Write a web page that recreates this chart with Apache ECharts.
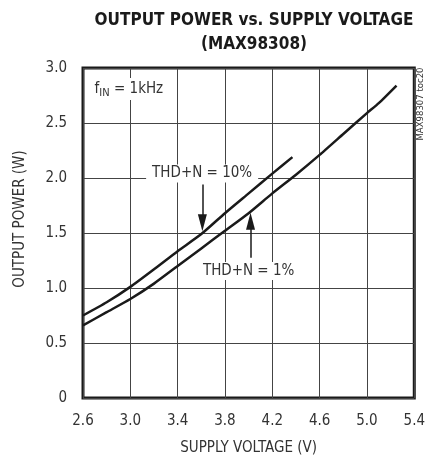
<!DOCTYPE html>
<html>
<head>
<meta charset="utf-8">
<script src="https://cdn.jsdelivr.net/npm/echarts@6/dist/echarts.min.js"></script>
<style>
html,body{margin:0;padding:0;background:#fff;}
#c{width:428px;height:461px;}
</style>
</head>
<body>
<div id="c"></div>
<script>
// ---- data ----
const volt10 = [2.6, 2.8, 3.0, 3.2, 3.4, 3.6, 3.8, 4.0, 4.2, 4.37];
const power10 = [0.75, 0.87, 1.01, 1.17, 1.335, 1.49, 1.68, 1.86, 2.04, 2.19];
const volt1 = [2.6, 2.8, 3.0, 3.2, 3.4, 3.6, 3.8, 4.0, 4.2, 4.4, 4.6, 4.8, 5.0, 5.1, 5.25];
const power1 = [0.66, 0.78, 0.90, 1.04, 1.20, 1.36, 1.52, 1.68, 1.86, 2.03, 2.21, 2.40, 2.59, 2.68, 2.84];
const xTicks = [2.6, 3.0, 3.4, 3.8, 4.2, 4.6, 5.0, 5.4];
const yTicks = [0, 0.5, 1.0, 1.5, 2.0, 2.5, 3.0];

const FONT = '"DejaVu Sans Condensed", "Liberation Sans Narrow", "Arial Narrow", sans-serif';
const INK = '#1a1a1a';
const TXT = '#333';
const FS = 15;

const pairs = (xs, ys) => xs.map((x, i) => [x, ys[i]]);

const chart = echarts.init(document.getElementById('c'), null, {renderer: 'canvas'});

const lineLabel = {show: true, position: 'inside', fontFamily: FONT, fontSize: FS, color: TXT};

chart.setOption({
  animation: false,
  backgroundColor: '#fff',
  title: {
    text: 'OUTPUT POWER vs. SUPPLY VOLTAGE\n(MAX98308)',
    left: 249,
    textAlign: 'center',
    top: 4,
    textStyle: {fontFamily: FONT, fontWeight: 'bold', fontSize: 17, lineHeight: 24, color: INK}
  },
  grid: {
    left: 83, right: 13, top: 68, bottom: 62,
    show: true, borderColor: INK, borderWidth: 3, backgroundColor: 'transparent'
  },
  xAxis: {
    type: 'value',
    min: xTicks[0], max: xTicks[xTicks.length - 1],
    name: 'SUPPLY VOLTAGE (V)',
    nameLocation: 'middle',
    nameGap: 43,
    nameTextStyle: {fontFamily: FONT, fontSize: FS, color: TXT},
    axisLine: {show: false},
    axisTick: {show: false, customValues: xTicks},
    axisLabel: {
      customValues: xTicks,
      margin: 16,
      fontFamily: FONT, fontSize: FS, color: TXT,
      formatter: v => v.toFixed(1)
    },
    splitLine: {show: true, lineStyle: {color: '#444', width: 1}}
  },
  yAxis: {
    type: 'value',
    min: yTicks[0], max: yTicks[yTicks.length - 1], interval: 0.5,
    axisLine: {show: false},
    axisTick: {show: false},
    axisLabel: {
      margin: 16,
      fontFamily: FONT, fontSize: FS, color: TXT,
      formatter: v => (v === 0 ? '0' : v.toFixed(1))
    },
    splitLine: {show: true, lineStyle: {color: '#444', width: 1}}
  },
  graphic: [
    {
      type: 'text', x: 20, y: 219, rotation: Math.PI / 2,
      style: {text: 'OUTPUT POWER (W)', font: FS + 'px ' + FONT, fill: TXT, align: 'center', verticalAlign: 'middle'}
    },
    {
      type: 'text', x: 421, y: 104, rotation: Math.PI / 2,
      style: {text: 'MAX98307 toc20', font: '9.5px ' + FONT, fill: TXT, align: 'center', verticalAlign: 'middle'}
    }
  ],
  series: [
    {
      type: 'line', name: 'THD+N = 10%',
      data: pairs(volt10, power10),
      showSymbol: false, smooth: 0.2,
      lineStyle: {color: INK, width: 2.5},
      silent: true, z: 3,
      markPoint: {
        symbol: 'rect', symbolSize: 0, silent: true,
        label: lineLabel,
        data: [
          {
            coord: [3.607, 2.04],
            label: {formatter: 'THD+N = 10%', backgroundColor: '#fff', padding: [2, 6, 1, 6]}
          },
          {
            coord: [2.988, 2.81],
            label: {
              formatter: '{a|f}{b|IN}{a| = 1kHz}', backgroundColor: '#fff', padding: [2, 3, 1, 3],
              rich: {
                a: {fontFamily: FONT, fontSize: FS, color: TXT, lineHeight: 19},
                b: {fontFamily: FONT, fontSize: 11, color: TXT, verticalAlign: 'bottom', lineHeight: 12, padding: [5, 0, 0, 0]}
              }
            }
          },
          {
            coord: [3.609, 1.593],
            symbol: 'triangle', symbolSize: [9, 17], symbolRotate: 180,
            itemStyle: {color: INK},
            label: {show: false}
          }
        ]
      },
      markLine: {
        silent: true, symbol: ['none', 'none'],
        label: {show: false},
        lineStyle: {color: INK, width: 1.5, type: 'solid'},
        data: [[{coord: [3.609, 1.94]}, {coord: [3.609, 1.593]}]]
      }
    },
    {
      type: 'line', name: 'THD+N = 1%',
      data: pairs(volt1, power1),
      showSymbol: false, smooth: 0.2,
      lineStyle: {color: INK, width: 2.5},
      silent: true, z: 3,
      markPoint: {
        symbol: 'rect', symbolSize: 0, silent: true,
        label: lineLabel,
        data: [
          {
            coord: [4.0, 1.154],
            label: {formatter: 'THD+N = 1%', backgroundColor: '#fff', padding: [2, 6, 1, 6]}
          },
          {
            coord: [4.016, 1.606],
            symbol: 'triangle', symbolSize: [9, 17],
            itemStyle: {color: INK},
            label: {show: false}
          }
        ]
      },
      markLine: {
        silent: true, symbol: ['none', 'none'],
        label: {show: false},
        lineStyle: {color: INK, width: 1.5, type: 'solid'},
        data: [[{coord: [4.016, 1.275]}, {coord: [4.016, 1.606]}]]
      }
    }
  ]
});
</script>
</body>
</html>
